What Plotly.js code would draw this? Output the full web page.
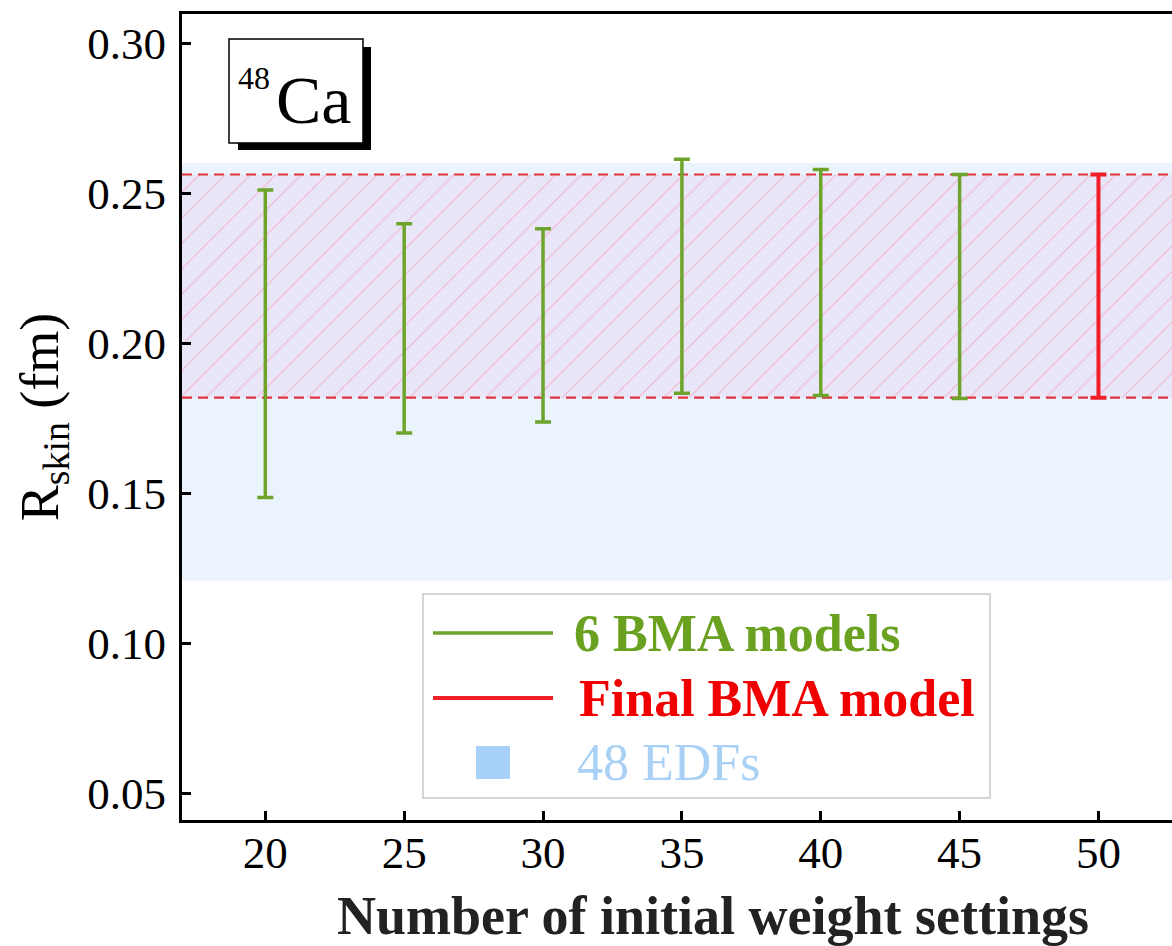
<!DOCTYPE html>
<html>
<head>
<meta charset="utf-8">
<script src="https://cdn.plot.ly/plotly-3.0.1.min.js"></script>
<style>
  html, body { margin: 0; padding: 0; width: 1172px; height: 946px; overflow: hidden; background: #fff; }
  #wrap { width: 1172px; height: 946px; overflow: hidden; }
  #chart { width: 1244px; height: 946px; }
</style>
</head>
<body>
<div id="wrap"><div id="chart"></div></div>
<script>
// Number of initial weight settings for each of the six BMA runs
const bmaSettings = [20, 25, 30, 35, 40, 45];
// Lower / upper bounds of the neutron-skin interval (fm) for each run
const bmaLow  = [0.1485, 0.1700, 0.1737, 0.1833, 0.1825, 0.1815];
const bmaHigh = [0.2510, 0.2398, 0.2381, 0.2613, 0.2579, 0.2562];

// Final BMA model
const finalSettings = [50];
const finalLow  = [0.1818];
const finalHigh = [0.2562];

// Spread of the 48 EDF predictions
const edfLow  = 0.1208;
const edfHigh = 0.2600;

const xTicks = [20, 25, 30, 35, 40, 45, 50];
const yTicks = [0.05, 0.10, 0.15, 0.20, 0.25, 0.30];

const legendNames = ['6 BMA models', 'Final BMA model', '48 EDFs'];

const GREEN = '#6EA42C';
const RED = '#F01E28';
const EDF_BLUE = '#EBF4FD';
const SERIF = "'Liberation Serif', 'Times New Roman', Times, serif";

// figure geometry (px)
const W = 1244, H = 946;
const M = { l: 182, r: 0, t: 14, b: 126 };
const xRange = [17, 55.24];
const yRange = [0.041, 0.3097];

// pixel -> paper helpers for the inset boxes
const pw = W - M.l - M.r, ph = H - M.t - M.b;
const px = v => (v - M.l) / pw;
const py = v => (H - M.b - v) / ph;

const mid = (a, b) => a.map((v, i) => (v + b[i]) / 2);

const traces = [
  // EDF band
  {
    x: [xRange[0], xRange[1], xRange[1], xRange[0]],
    y: [edfLow, edfLow, edfHigh, edfHigh],
    type: 'scatter', mode: 'none', fill: 'toself',
    fillcolor: EDF_BLUE, showlegend: false, hoverinfo: 'skip'
  },
  // hatched band spanned by the final model
  {
    x: [xRange[0], xRange[1], xRange[1], xRange[0]],
    y: [finalLow[0], finalLow[0], finalHigh[0], finalHigh[0]],
    type: 'scatter', mode: 'none', fill: 'toself',
    fillcolor: '#E8E6F8',
    fillpattern: { shape: '/', bgcolor: '#E8E6F8', fgcolor: '#F2B6CB', size: 18, solidity: 0.06 },
    showlegend: false, hoverinfo: 'skip'
  },
  // dashed limits of the final model
  {
    x: [xRange[0], xRange[1]], y: [finalLow[0], finalLow[0]],
    type: 'scatter', mode: 'lines',
    line: { color: '#E2343F', width: 2.2, dash: '10px,6px' },
    showlegend: false, hoverinfo: 'skip'
  },
  {
    x: [xRange[0], xRange[1]], y: [finalHigh[0], finalHigh[0]],
    type: 'scatter', mode: 'lines',
    line: { color: '#E2343F', width: 2.2, dash: '10px,6px' },
    showlegend: false, hoverinfo: 'skip'
  },
  // six BMA intervals
  {
    x: bmaSettings, y: mid(bmaLow, bmaHigh),
    type: 'scatter', mode: 'markers',
    marker: { size: 1, opacity: 0 },
    error_y: {
      type: 'data', symmetric: false,
      array: bmaHigh.map((v, i) => v - (v + bmaLow[i]) / 2),
      arrayminus: bmaLow.map((v, i) => (v + bmaHigh[i]) / 2 - v),
      color: GREEN, thickness: 3.5, width: 8
    },
    name: legendNames[0], showlegend: false
  },
  // final BMA interval
  {
    x: finalSettings, y: mid(finalLow, finalHigh),
    type: 'scatter', mode: 'markers',
    marker: { size: 1, opacity: 0 },
    error_y: {
      type: 'data', symmetric: false,
      array: finalHigh.map((v, i) => v - (v + finalLow[i]) / 2),
      arrayminus: finalLow.map((v, i) => (v + finalHigh[i]) / 2 - v),
      color: RED, thickness: 4, width: 8
    },
    name: legendNames[1], showlegend: false
  }
];

const shapes = [
  // nucleus label box with drop shadow
  { type: 'rect', xref: 'paper', yref: 'paper', x0: px(238), x1: px(371), y0: py(150), y1: py(47),
    fillcolor: '#000', line: { width: 0 }, layer: 'above' },
  { type: 'rect', xref: 'paper', yref: 'paper', x0: px(229), x1: px(363), y0: py(143), y1: py(39),
    fillcolor: '#fff', line: { color: '#000', width: 1.5 }, layer: 'above' },
  // legend frame
  { type: 'rect', xref: 'paper', yref: 'paper', x0: px(423), x1: px(990), y0: py(798), y1: py(594),
    fillcolor: '#fff', line: { color: '#C8C8C8', width: 1.5 }, layer: 'above' },
  // legend symbols
  { type: 'line', xref: 'paper', yref: 'paper', x0: px(433), x1: px(553), y0: py(633), y1: py(633),
    line: { color: GREEN, width: 3.5 }, layer: 'above' },
  { type: 'line', xref: 'paper', yref: 'paper', x0: px(433), x1: px(553), y0: py(698), y1: py(698),
    line: { color: RED, width: 4 }, layer: 'above' },
  { type: 'rect', xref: 'paper', yref: 'paper', x0: px(476), x1: px(510), y0: py(779), y1: py(746),
    fillcolor: '#A8D1FA', line: { width: 0 }, layer: 'above' }
];

const annotations = [
  { xref: 'paper', yref: 'paper', x: px(236), y: py(78), xanchor: 'left', yanchor: 'middle',
    text: '48', showarrow: false, font: { family: SERIF, size: 32, color: '#000' } },
  { xref: 'paper', yref: 'paper', x: px(274), y: py(100), xanchor: 'left', yanchor: 'middle',
    text: 'Ca', showarrow: false, font: { family: SERIF, size: 68, color: '#000' } },
  { xref: 'paper', yref: 'paper', x: px(572), y: py(633), xanchor: 'left', yanchor: 'middle',
    text: legendNames[0], showarrow: false,
    font: { family: SERIF, size: 52, color: '#6AA121', weight: 'bold' } },
  { xref: 'paper', yref: 'paper', x: px(577), y: py(698), xanchor: 'left', yanchor: 'middle',
    text: legendNames[1], showarrow: false,
    font: { family: SERIF, size: 52, color: '#F00000', weight: 'bold' } },
  { xref: 'paper', yref: 'paper', x: px(575), y: py(762), xanchor: 'left', yanchor: 'middle',
    text: legendNames[2], showarrow: false,
    font: { family: SERIF, size: 52, color: '#A9D0F5' } }
];

const layout = {
  width: W, height: H,
  margin: M,
  paper_bgcolor: '#fff', plot_bgcolor: '#fff',
  showlegend: false,
  font: { family: SERIF, color: '#000' },
  xaxis: {
    range: xRange, tickvals: xTicks, ticktext: xTicks.map(String),
    ticks: 'inside', ticklen: 9, tickwidth: 3, tickcolor: '#000',
    showline: true, linewidth: 3, linecolor: '#000', mirror: true,
    showgrid: false, zeroline: false,
    tickfont: { family: SERIF, size: 45, color: '#000' },
    ticklabelstandoff: -9,
    title: { text: 'Number of initial weight settings', standoff: 40,
             font: { family: SERIF, size: 54, color: '#222', weight: 'bold' } }
  },
  yaxis: {
    range: yRange, tickvals: yTicks, ticktext: yTicks.map(v => v.toFixed(2)),
    ticks: 'inside', ticklen: 9, tickwidth: 3, tickcolor: '#000',
    showline: true, linewidth: 3, linecolor: '#000', mirror: false,
    showgrid: false, zeroline: false,
    tickfont: { family: SERIF, size: 45, color: '#000' },
    ticklabelstandoff: 4,
    title: { text: 'R<sub>skin</sub> (fm)', standoff: 12,
             font: { family: SERIF, size: 54, color: '#000' } }
  },
  shapes: shapes,
  annotations: annotations
};

Plotly.newPlot('chart', traces, layout, { displayModeBar: false, staticPlot: true });
</script>
</body>
</html>
